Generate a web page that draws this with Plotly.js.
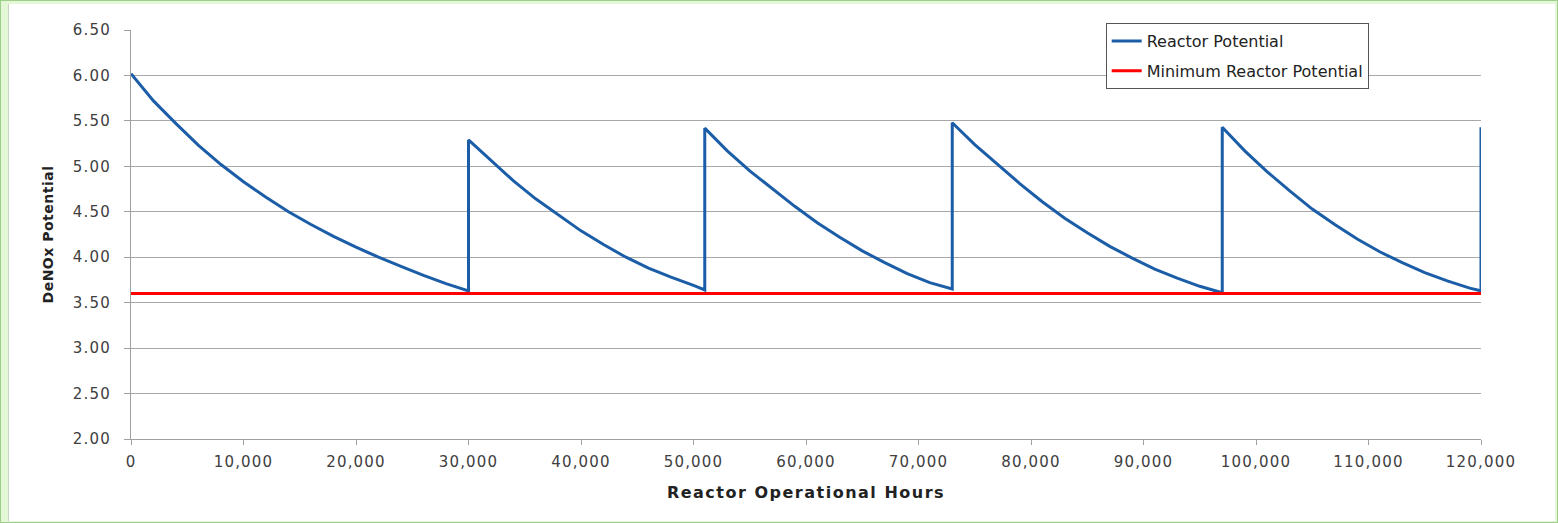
<!DOCTYPE html>
<html>
<head>
<meta charset="utf-8">
<script src="https://cdn.plot.ly/plotly-3.0.1.min.js"></script>
<style>
  html, body {margin: 0; padding: 0;}
  body {
    width: 1558px; height: 523px; overflow: hidden;
    background: #e4f7d7;
    box-sizing: border-box;
    border: 1px solid #9dcf8a;
    position: relative;
  }
  #chart {
    position: absolute; left: 7px; top: 3px;
    width: 1546px; height: 517px;
    background: #ffffff;
    border-left: 1px solid #c9d6c2;
    box-sizing: border-box;
  }
  /* the original's lettering is wider than any installed font */
  #chart .xtick text, #chart .ytick text {letter-spacing: 1.2px;}
  #chart .xtitle {letter-spacing: 1.5px;}
  #chart .ytitle {letter-spacing: 0.5px;}
</style>
</head>
<body>
<div id="chart"></div>
<script>
// reactor potential (vertical jumps = catalyst additions)
let hours = [
  0, 2000, 4000, 6000, 8000, 10000, 12000, 14000, 16000, 18000, 20000,
  22000, 24000, 26000, 28000, 30000,
  30000, 32000, 34000, 36000, 38000, 40000, 42000, 44000, 46000, 48000, 50000, 51000,
  51000, 53000, 55000, 57000, 59000, 61000, 63000, 65000, 67000, 69000, 71000, 73000,
  73000, 75000, 77000, 79000, 81000, 83000, 85000, 87000, 89000, 91000, 93000, 95000, 97000,
  97000, 99000, 101000, 103000, 105000, 107000, 109000, 111000, 113000, 115000, 117000, 119000, 120000,
  120000
];
let potential = [
  6.02, 5.72, 5.47, 5.23, 5.02, 4.83, 4.66, 4.50, 4.36, 4.23, 4.11,
  4.00, 3.90, 3.80, 3.71, 3.63,
  5.29, 5.06, 4.84, 4.64, 4.46, 4.29, 4.14, 4.00, 3.88, 3.78, 3.69, 3.64,
  5.42, 5.17, 4.95, 4.75, 4.56, 4.38, 4.22, 4.07, 3.94, 3.82, 3.72, 3.65,
  5.48, 5.24, 5.02, 4.81, 4.61, 4.43, 4.27, 4.12, 3.99, 3.87, 3.77, 3.68, 3.61,
  5.43, 5.17, 4.94, 4.73, 4.53, 4.36, 4.20, 4.06, 3.94, 3.83, 3.74, 3.66, 3.63,
  5.43
];

// minimum allowed potential
let minHours = [0, 120000];
let minPotential = [3.6, 3.6];

let seriesNames = ['Reactor Potential', 'Minimum Reactor Potential'];

let fontFam = 'DejaVu Sans, Verdana, sans-serif';

let data = [{
    type: 'scatter',
    mode: 'lines',
    x: hours,
    y: potential,
    name: seriesNames[0],
    legendgroup: 'a',
    line: {color: '#1b5ea7', width: 3}
}, {
    type: 'scatter',
    mode: 'lines',
    x: minHours,
    y: minPotential,
    name: seriesNames[1],
    legendgroup: 'b',
    line: {color: '#ff0000', width: 3}
}];

let layout = {
    width: 1546,
    height: 517,
    margin: {l: 122, r: 74, t: 26, b: 82},
    paper_bgcolor: '#ffffff',
    plot_bgcolor: '#ffffff',
    font: {family: fontFam, size: 15, color: '#404040'},
    showlegend: true,
    legend: {
        x: 0.722, y: 1.017,
        xanchor: 'left', yanchor: 'top',
        bgcolor: '#ffffff',
        bordercolor: '#555555',
        borderwidth: 1,
        tracegroupgap: 6,
        font: {family: fontFam, size: 16, color: '#222222'}
    },
    xaxis: {
        range: [0, 120000],
        dtick: 10000,
        tickformat: ',d',
        showgrid: false,
        zeroline: false,
        showline: true,
        linecolor: '#a0a0a0',
        linewidth: 1,
        ticks: 'outside',
        ticklen: 5,
        tickcolor: '#a0a0a0',
        ticklabelstandoff: 4,
        title: {
            text: 'Reactor Operational Hours',
            standoff: 16,
            font: {family: fontFam, size: 16, color: '#222222', weight: 'bold'}
        }
    },
    yaxis: {
        range: [2, 6.5],
        dtick: 0.5,
        tickformat: '.2f',
        showgrid: true,
        gridcolor: '#a8a8a8',
        gridwidth: 1,
        zeroline: false,
        showline: true,
        linecolor: '#a0a0a0',
        linewidth: 1,
        ticks: 'outside',
        ticklen: 6,
        tickcolor: '#a0a0a0',
        ticklabelstandoff: 10,
        title: {
            text: 'DeNOx Potential',
            standoff: 20,
            font: {family: fontFam, size: 14, color: '#222222', weight: 'bold'}
        }
    }
};

Plotly.newPlot('chart', data, layout, {displayModeBar: false, staticPlot: true});
</script>
</body>
</html>
